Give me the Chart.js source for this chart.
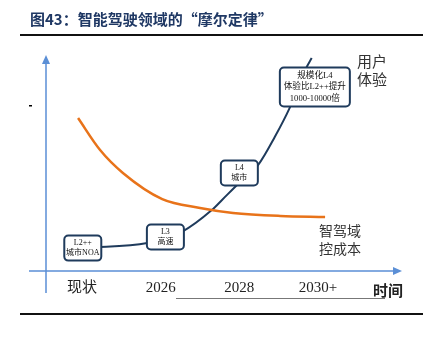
<!DOCTYPE html>
<html>
<head>
<meta charset="utf-8">
<script src="https://cdn.jsdelivr.net/npm/chart.js@4"></script>
<style>
  html, body { margin: 0; padding: 0; background: #fff; }
  #wrap { width: 429px; height: 337px; }
</style>
</head>
<body>
<div id="wrap"><canvas id="mooreChart" width="429" height="337"></canvas></div>
<script>
// Time axis
const timeLabels = ['现状', '2026', '2028', '2030+'];
const timeValues = [0, 1, 2, 3];

// 用户体验 curve (blue)
const experienceX = [0.05, 0.83, 1.06, 1.27, 1.65, 1.78, 2.01, 2.24, 2.45, 2.64, 2.85, 2.92];
const experienceY = [1.06, 1.30, 1.53, 1.81, 2.82, 3.29, 4.12, 4.91, 6.20, 7.55, 9.40, 9.86];

// 智驾域控成本 curve (orange)
const costX = [-0.05, 0.23, 0.52, 1.02, 1.50, 1.92, 2.52, 3.09];
const costY = [7.08, 5.60, 4.54, 3.33, 2.92, 2.69, 2.55, 2.50];

// Milestone boxes on the blue curve
const milestoneText = [
    ['L2++', '城市NOA'],
    ['L3', '高速'],
    ['L4', '城市'],
    ['规模化L4', '体验比L2++提升', '1000-10000倍']
];
const milestoneX = [0.01, 1.06, 2.00, 2.96];
const milestoneY = [1.06, 1.57, 4.54, 8.52];

const NAVY = '#1f3b5c';
const AXIS = '#5b8fd6';
const ORANGE = '#e8731a';
const SERIF = '"Liberation Serif", "Noto Sans CJK SC", serif';
const CJK = '"Noto Sans CJK SC", sans-serif';

function toPoints(xs, ys) {
    return xs.map((x, i) => ({ x: x, y: ys[i] }));
}

function roundRect(ctx, x, y, w, h, r) {
    ctx.beginPath();
    ctx.moveTo(x + r, y);
    ctx.arcTo(x + w, y, x + w, y + h, r);
    ctx.arcTo(x + w, y + h, x, y + h, r);
    ctx.arcTo(x, y + h, x, y, r);
    ctx.arcTo(x, y, x + w, y, r);
    ctx.closePath();
}

const decorPlugin = {
    id: 'decor',
    beforeDatasetsDraw(chart) {
        const { ctx, chartArea: a } = chart;
        ctx.save();
        // title
        ctx.fillStyle = '#1f3864';
        ctx.font = 'bold 15px ' + CJK;
        ctx.textBaseline = 'middle';
        ctx.textAlign = 'left';
        ctx.fillText('图43：智能驾驶领域的“摩尔定律”', 30, 19);
        // rules
        ctx.fillStyle = '#111';
        ctx.fillRect(20, 34, 403, 2);
        ctx.fillRect(20, 313, 403, 2);
        ctx.fillStyle = '#777';
        ctx.fillRect(176, 298, 209, 1);
        // stray mark
        ctx.fillStyle = '#000';
        ctx.fillRect(29, 105, 3, 1.5);

        // axes with arrows
        ctx.strokeStyle = AXIS;
        ctx.fillStyle = AXIS;
        ctx.lineWidth = 1.5;
        ctx.beginPath();
        ctx.moveTo(a.left, a.bottom + 22);
        ctx.lineTo(a.left, a.top + 6);
        ctx.moveTo(a.left - 17, a.bottom);
        ctx.lineTo(a.right - 6, a.bottom);
        ctx.stroke();
        ctx.beginPath();
        ctx.moveTo(a.left, a.top);
        ctx.lineTo(a.left - 4, a.top + 9);
        ctx.lineTo(a.left + 4, a.top + 9);
        ctx.closePath();
        ctx.fill();
        ctx.beginPath();
        ctx.moveTo(a.right, a.bottom);
        ctx.lineTo(a.right - 9, a.bottom - 4);
        ctx.lineTo(a.right - 9, a.bottom + 4);
        ctx.closePath();
        ctx.fill();
        ctx.restore();
    },
    afterDraw(chart) {
        const { ctx } = chart;
        const xs = chart.scales.x;
        const ys = chart.scales.y;
        ctx.save();
        ctx.textAlign = 'center';
        ctx.textBaseline = 'middle';

        // milestone boxes
        milestoneText.forEach((lines, i) => {
            const cx = xs.getPixelForValue(milestoneX[i]);
            const cy = ys.getPixelForValue(milestoneY[i]);
            const big = lines.length > 2;
            const w = big ? 70 : 37;
            const h = big ? 39 : 25;
            const lh = big ? 11.5 : 10.5;
            roundRect(ctx, cx - w / 2, cy - h / 2, w, h, 4);
            ctx.fillStyle = '#fff';
            ctx.fill();
            ctx.strokeStyle = NAVY;
            ctx.lineWidth = 2;
            ctx.stroke();
            ctx.fillStyle = '#111';
            ctx.font = (big ? '8.6px ' : '8px ') + SERIF;
            lines.forEach((t, j) => {
                ctx.fillText(t, cx, cy + (j - (lines.length - 1) / 2) * lh);
            });
        });

        // series labels
        ctx.fillStyle = '#333';
        ctx.font = '15px ' + CJK;
        ctx.textAlign = 'left';
        ctx.fillText('用户', 357, 61);
        ctx.fillText('体验', 357, 79);
        ctx.font = '14px ' + CJK;
        ctx.fillText('智驾域', 319, 231);
        ctx.fillText('控成本', 319, 249);
        ctx.fillStyle = '#222';
        ctx.font = 'bold 15px ' + CJK;
        ctx.fillText('时间', 373, 290);
        ctx.restore();
    }
};

const chart = new Chart(document.getElementById('mooreChart'), {
    type: 'line',
    data: {
        datasets: [
            {
                label: '智驾域控成本',
                data: toPoints(costX, costY),
                borderColor: ORANGE,
                borderWidth: 2.5,
                pointRadius: 0,
                cubicInterpolationMode: 'monotone'
            },
            {
                label: '用户体验',
                data: toPoints(experienceX, experienceY),
                borderColor: NAVY,
                borderWidth: 2,
                pointRadius: 0,
                cubicInterpolationMode: 'monotone'
            }
        ]
    },
    options: {
        responsive: false,
        animation: false,
        layout: { padding: { left: 46, right: 27, top: 55, bottom: 32 } },
        plugins: { legend: { display: false }, tooltip: { enabled: false } },
        scales: {
            x: {
                type: 'linear',
                min: -0.4576,
                max: 4.0677,
                grid: { display: false, drawTicks: false },
                border: { display: false },
                afterBuildTicks: s => { s.ticks = timeValues.map(v => ({ value: v })); },
                ticks: {
                    padding: 8,
                    maxRotation: 0,
                    autoSkip: false,
                    color: '#222',
                    font: { family: SERIF, size: 15 },
                    callback: v => timeLabels[timeValues.indexOf(v)]
                }
            },
            y: {
                type: 'linear',
                display: false,
                min: 0,
                max: 10
            }
        }
    },
    plugins: [decorPlugin]
});
</script>
</body>
</html>
